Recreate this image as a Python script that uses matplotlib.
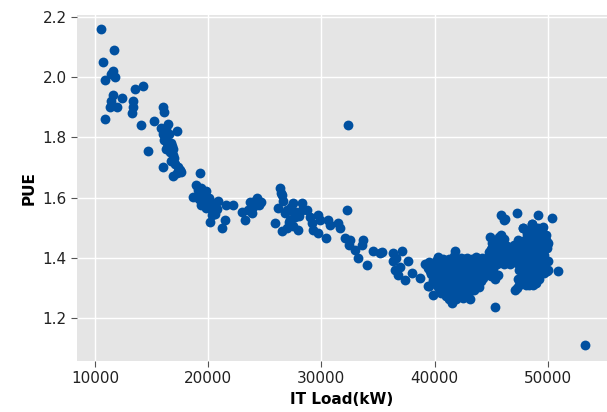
import matplotlib
matplotlib.use("Agg")
import matplotlib.pyplot as plt

# IT load (kW) and PUE readings
it_load_early = [10500, 11700, 10700, 11550, 11450, 10900, 11750, 13550, 14200, 11550,
                 12400, 11400, 13400, 13400, 11300, 11900, 13250, 10850, 14100, 15200,
                 16050, 16100, 15800, 16300, 17200, 14650, 16000, 16200, 16500, 16100,
                 16400, 16700, 16300, 16800, 16600, 16900, 17000, 16700, 16000, 17100,
                 17300, 17500, 16900, 17600, 17200, 16900, 16200, 16450]
pue_early = [2.16, 2.09, 2.05, 2.02, 2.01, 1.99, 2.00, 1.96, 1.97, 1.94,
             1.93, 1.92, 1.92, 1.90, 1.90, 1.90, 1.88, 1.86, 1.84, 1.855,
             1.90, 1.885, 1.83, 1.83, 1.82, 1.755, 1.81, 1.80, 1.81, 1.79,
             1.78, 1.78, 1.76, 1.77, 1.75, 1.74, 1.73, 1.72, 1.70, 1.71,
             1.70, 1.69, 1.67, 1.685, 1.68, 1.76, 1.82, 1.845]

it_load_mid = [18700, 18950, 19100, 19300, 19250, 19400, 19500, 19600, 19700, 19800,
               19900, 20000, 20100, 19600, 19800, 20000, 20200, 20450, 20300, 20750,
               20300, 20600, 20150, 21500, 21200, 20900, 19200, 19400, 21600, 22200,
               22950, 23250, 23550, 23700, 24000, 23850, 24300, 24700, 24500, 24100,
               26350, 26400, 26500, 26600, 26200, 25900, 26500, 26800, 27000, 27250,
               27500, 27300, 27600, 28250, 27800, 27500, 27950, 26950, 27100, 27700,
               28000, 28300, 28700, 29000, 29150, 29300, 29700, 29900, 29700, 30450,
               30600, 30750, 31500, 31650, 32350, 32250, 32100, 32550, 32400, 33000,
               33250, 33700, 33550, 34000, 34600, 35200]
pue_mid = [1.603, 1.640, 1.625, 1.680, 1.610, 1.630, 1.600, 1.615, 1.590, 1.620,
           1.600, 1.585, 1.597, 1.575, 1.565, 1.570, 1.580, 1.581, 1.560, 1.561,
           1.542, 1.545, 1.520, 1.526, 1.498, 1.590, 1.595, 1.575, 1.575, 1.575,
           1.553, 1.526, 1.558, 1.586, 1.570, 1.548, 1.597, 1.586, 1.575, 1.590,
           1.630, 1.615, 1.608, 1.590, 1.564, 1.517, 1.490, 1.548, 1.560, 1.526,
           1.581, 1.570, 1.550, 1.581, 1.553, 1.504, 1.493, 1.498, 1.520, 1.535,
           1.540, 1.560, 1.558, 1.537, 1.515, 1.493, 1.542, 1.526, 1.482, 1.465,
           1.526, 1.509, 1.515, 1.498, 1.840, 1.558, 1.465, 1.460, 1.443, 1.426,
           1.399, 1.460, 1.443, 1.377, 1.421, 1.416]

it_load_late = [36350, 36350, 36500, 36800, 37400, 37100, 37680, 37970, 38710, 39150,
                39440, 39880, 40330, 41800, 35330, 36600, 36900,
                40300, 41700, 42300, 42900, 43700, 44200,
                39500, 40100, 40700, 41300, 41900, 42500, 43100, 43700, 44300, 44900,
                39400, 40000, 40600, 41200, 41800, 42400, 43000, 43600, 44200, 44800,
                39700, 40300, 40900, 41500, 42100, 42700, 43300, 43900, 44500, 45100,
                39900, 40500, 41100, 41700, 42300, 42900, 43500, 44100,
                39500, 40300, 40900, 41500, 42100, 42700, 43300, 43900,
                40600, 41200, 41800, 42400, 43000,
                41300, 41900, 42500, 43100,
                41500, 45300]
pue_late = [1.416, 1.388, 1.360, 1.344, 1.327, 1.421, 1.388, 1.349, 1.333, 1.380,
            1.305, 1.278, 1.399, 1.421, 1.418, 1.400, 1.370,
            1.404, 1.405, 1.400, 1.398, 1.404, 1.399,
            1.385, 1.388, 1.382, 1.386, 1.390, 1.384, 1.387, 1.383, 1.386, 1.380,
            1.365, 1.362, 1.368, 1.364, 1.366, 1.360, 1.367, 1.363, 1.365, 1.362,
            1.345, 1.342, 1.348, 1.344, 1.346, 1.341, 1.347, 1.343, 1.345, 1.348,
            1.325, 1.322, 1.328, 1.324, 1.326, 1.321, 1.327, 1.323,
            1.305, 1.302, 1.308, 1.304, 1.306, 1.301, 1.307, 1.303,
            1.285, 1.282, 1.288, 1.284, 1.286,
            1.265, 1.262, 1.268, 1.264,
            1.250, 1.237]

it_load_dense = [40700, 41300, 42000, 42600, 43300, 44000, 44600,
                 39800, 40400, 41000, 41600, 42200, 42800, 43400, 44000, 44600,
                 39600, 40200, 40800, 41400, 42000, 42600, 43200, 43800, 44400,
                 40000, 40600, 41200, 41800, 42400, 43000, 43600, 44300,
                 40200, 40800, 41400, 42000, 42600, 43200, 43800,
                 40500, 41100, 41700, 42300, 42900, 43500,
                 41000, 41600, 42200, 42800,
                 48200, 48900, 49400,
                 45700, 48500, 49100, 49600,
                 45100, 45700, 47700, 48300, 48900, 49500, 50000,
                 45000, 45600, 46200, 47500, 48100, 48700, 49300, 49900,
                 44900, 45500, 46100, 46700, 47300, 47900, 48500, 49100, 49700,
                 44600, 45200, 45800, 46400, 47600, 48200, 48800, 49400, 50000,
                 44500, 45100, 47700, 48300, 48900, 49500,
                 44800, 47900, 48500, 49100, 49700,
                 45300, 47400, 48000, 48600, 49200,
                 47500, 48100, 48700]
pue_dense = [1.395, 1.396, 1.394, 1.395, 1.396, 1.393, 1.392,
             1.375, 1.376, 1.374, 1.375, 1.376, 1.374, 1.375, 1.376, 1.374,
             1.355, 1.356, 1.354, 1.355, 1.356, 1.354, 1.355, 1.356, 1.354,
             1.335, 1.336, 1.334, 1.335, 1.336, 1.334, 1.335, 1.333,
             1.315, 1.316, 1.314, 1.315, 1.316, 1.314, 1.315,
             1.295, 1.296, 1.294, 1.295, 1.296, 1.294,
             1.275, 1.276, 1.274, 1.275,
             1.490, 1.491, 1.489,
             1.470, 1.471, 1.469, 1.470,
             1.450, 1.451, 1.449, 1.450, 1.451, 1.449, 1.450,
             1.430, 1.431, 1.429, 1.430, 1.431, 1.429, 1.430, 1.431,
             1.410, 1.411, 1.409, 1.410, 1.411, 1.409, 1.410, 1.411, 1.409,
             1.390, 1.391, 1.389, 1.390, 1.391, 1.389, 1.390, 1.391, 1.389,
             1.370, 1.371, 1.369, 1.370, 1.371, 1.369,
             1.350, 1.351, 1.349, 1.350, 1.351,
             1.330, 1.331, 1.329, 1.330, 1.331,
             1.310, 1.311, 1.309]

it_load_high = [47800, 48600, 49100, 49600,
                45900, 48200, 48800, 49300, 49800,
                44900, 45500, 46100, 47400, 48000, 48600, 49200, 49800,
                45200, 45800, 46400, 47000, 47600, 48200, 48800, 49400, 49900,
                44800, 45400, 46000, 46600, 47200, 47800, 48400, 49000, 49600,
                44600, 45200, 45800, 46400, 47000, 47600, 48200, 48800, 49400,
                44300, 44900, 45500, 46100, 46700, 47300, 47900, 48500, 49100, 49700,
                44600, 45200, 47500, 48100, 48700, 49300, 49900, 50900, 50050,
                45000, 45600, 47800, 48400, 49000,
                47700, 48300, 48900,
                47100, 47300, 48300, 49000,
                45900, 46100, 46200, 47250, 49100, 50350, 47850, 48600, 53290]
pue_high = [1.500, 1.511, 1.498, 1.502,
            1.476, 1.480, 1.478, 1.482, 1.476,
            1.470, 1.460, 1.462, 1.460, 1.458, 1.462, 1.460, 1.458,
            1.440, 1.442, 1.438, 1.441, 1.439, 1.442, 1.440, 1.438, 1.441,
            1.420, 1.422, 1.418, 1.421, 1.419, 1.422, 1.420, 1.418, 1.421,
            1.400, 1.402, 1.398, 1.401, 1.399, 1.402, 1.400, 1.398, 1.401,
            1.380, 1.382, 1.378, 1.381, 1.379, 1.382, 1.380, 1.378, 1.381, 1.379,
            1.360, 1.362, 1.361, 1.359, 1.362, 1.360, 1.358, 1.357, 1.360,
            1.340, 1.342, 1.338, 1.341, 1.339,
            1.320, 1.322, 1.318,
            1.294, 1.300, 1.311, 1.316,
            1.542, 1.526, 1.530, 1.548, 1.542, 1.531, 1.498, 1.511, 1.110]

it_load = it_load_early + it_load_mid + it_load_late + it_load_dense + it_load_high
pue = pue_early + pue_mid + pue_late + pue_dense + pue_high

fig = plt.figure(figsize=(6.07, 4.12), dpi=100)
ax = fig.add_axes([77 / 607, 1 - 361 / 412, 1 - 77 / 607, (361 - 15) / 412])
ax.set_facecolor("#E5E5E5")
for s in ax.spines.values():
    s.set_visible(False)
ax.grid(True, color="white", linewidth=1.0)
ax.set_axisbelow(True)

ax.scatter(it_load, pue, s=50, color="#0050A0", linewidths=0, zorder=3)

ax.set_xlim(8410, 55230)
ax.set_ylim(1.058, 2.205)
ax.set_xticks([10000, 20000, 30000, 40000, 50000])
ax.set_yticks([1.2, 1.4, 1.6, 1.8, 2.0, 2.2])
ax.tick_params(axis="both", colors="#555555", labelcolor="#222222",
               labelsize=11, length=4, direction="out")
ax.set_xlabel("IT Load(kW)", fontsize=11, fontweight="bold", color="black")
ax.set_ylabel("PUE", fontsize=11, fontweight="bold", color="black")

fig.savefig("out.png", dpi=100)
